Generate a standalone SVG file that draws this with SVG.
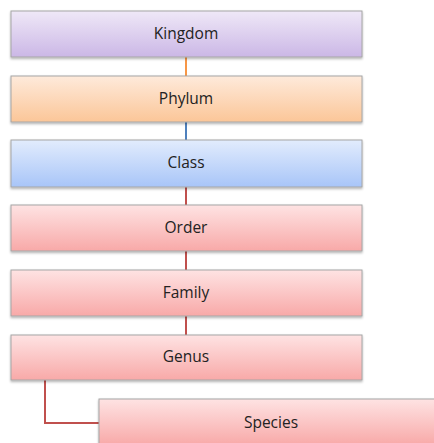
<svg xmlns="http://www.w3.org/2000/svg" width="434" height="443" viewBox="0 0 434 443">
<defs>
<linearGradient id="gP" x1="0" y1="0" x2="0" y2="1"><stop offset="0" stop-color="#efe8f7"/><stop offset="1" stop-color="#cbb7e6"/></linearGradient>
<linearGradient id="gO" x1="0" y1="0" x2="0" y2="1"><stop offset="0" stop-color="#feeadb"/><stop offset="1" stop-color="#fbc698"/></linearGradient>
<linearGradient id="gB" x1="0" y1="0" x2="0" y2="1"><stop offset="0" stop-color="#e2ecfd"/><stop offset="1" stop-color="#a8c5f8"/></linearGradient>
<linearGradient id="gR" x1="0" y1="0" x2="0" y2="1"><stop offset="0" stop-color="#fee3e3"/><stop offset="1" stop-color="#f8a9a8"/></linearGradient>
<filter id="sh" x="-5%" y="-10%" width="110%" height="130%"><feDropShadow dx="0" dy="1.5" stdDeviation="1" flood-color="#000" flood-opacity="0.3"/></filter>
</defs>
<style>
.box{stroke:#a6a6a6;stroke-width:1;filter:url(#sh)}
.t{font-family:"Open Sans","Liberation Sans",sans-serif;font-size:15.5px;fill:#222;text-anchor:middle;dominant-baseline:central}
.c{fill:none;stroke-width:2}
</style>
<rect width="434" height="443" fill="#fff"/>
<g id="connectors">
<line class="c" x1="186" y1="57" x2="186" y2="76" stroke="#f79646"/>
<line class="c" x1="186" y1="122" x2="186" y2="140" stroke="#4f81bd"/>
<line class="c" x1="186" y1="187" x2="186" y2="205" stroke="#c0504d"/>
<line class="c" x1="186" y1="251" x2="186" y2="270" stroke="#c0504d"/>
<line class="c" x1="186" y1="316" x2="186" y2="335" stroke="#c0504d"/>
<polyline class="c" points="45,380 45,423 99,423" stroke="#c0504d"/>
</g>
<g id="kingdom"><rect class="box" x="11" y="11" width="351" height="46" fill="url(#gP)"/><text class="t" x="186" y="33">Kingdom</text></g>
<g id="phylum"><rect class="box" x="11" y="76" width="351" height="46" fill="url(#gO)"/><text class="t" x="186" y="98">Phylum</text></g>
<g id="class"><rect class="box" x="11" y="140" width="351" height="47" fill="url(#gB)"/><text class="t" x="186" y="162">Class</text></g>
<g id="order"><rect class="box" x="11" y="205" width="351" height="46" fill="url(#gR)"/><text class="t" x="186" y="227">Order</text></g>
<g id="family"><rect class="box" x="11" y="270" width="351" height="46" fill="url(#gR)"/><text class="t" x="186" y="292">Family</text></g>
<g id="genus"><rect class="box" x="11" y="335" width="351" height="45" fill="url(#gR)"/><text class="t" x="186" y="356">Genus</text></g>
<g id="species"><rect class="box" x="99" y="399" width="351" height="46" fill="url(#gR)"/><text class="t" x="271" y="422">Species</text></g>
</svg>
